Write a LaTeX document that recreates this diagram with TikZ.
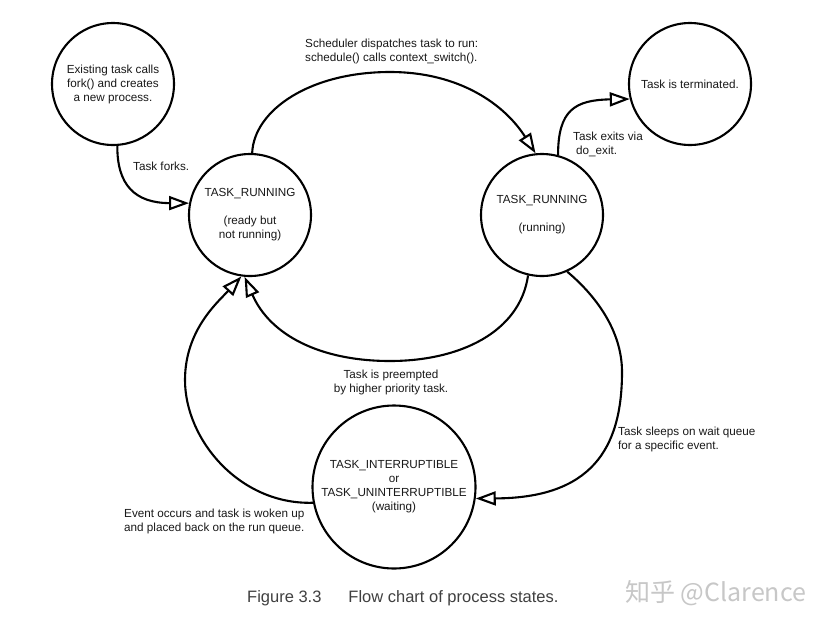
\documentclass[tikz,border=0pt]{standalone}
\usepackage{fontspec}
\setmainfont{Liberation Sans}
\newfontfamily\cjkwm{Noto Sans CJK SC}
\usetikzlibrary{arrows.meta}
\begin{document}
\begin{tikzpicture}[x=1pt,y=-1pt,
  state/.style={circle,draw,line width=2.1pt,minimum size=122pt,inner sep=0pt,align=center,
    font=\fontsize{11.7}{14}\selectfont,text=black!90},
  lbl/.style={inner sep=0pt,font=\fontsize{11.7}{14}\selectfont,text=black!90},
  flow/.style={line width=2.1pt,-{Triangle[length=20pt,width=14pt,fill=white]}},
]
\useasboundingbox (0,0) rectangle (826,627);
\fill[white] (0,0) rectangle (826,627);

\node[state] (A) at (113,84) {Existing task calls\\fork() and creates\\a new process.};
\node[state] (B) at (250,215) {TASK\_RUNNING\\[14pt](ready but\\not running)};
\node[state] (C) at (542,215) {TASK\_RUNNING\\[14pt](running)};
\node[state] (D) at (690,84) {Task is terminated.};
\node[state,minimum size=163pt] (E) at (394,487) {TASK\_INTERRUPTIBLE\\or\\TASK\_UNINTERRUPTIBLE\\(waiting)};

\draw[flow] (A.-86) .. controls (117,185) and (135,203) .. (B.169);
\draw[flow] (B.88) .. controls (254,110) and (310,72) .. (390,72) .. controls (460,72) and (505,105) .. (C.96);
\draw[flow] (C.75) .. controls (558,110) and (575,100) .. (D.-166);
\draw[flow] (C.-103) .. controls (520,332) and (460,361) .. (390,361) .. controls (320,361) and (270,335) .. (B.-95);
\draw[flow] (C.-66) .. controls (595,295) and (622,330) .. (622,372) .. controls (622,450) and (590,498) .. (E.-8);
\draw[flow] (E.191) .. controls (240,505) and (185,440) .. (185,380) .. controls (185,330) and (218,302) .. (B.-98);

\node[lbl,anchor=west] (l1) at (133,166) {Task forks.};
\node[lbl,anchor=west,align=left] (l2) at (305,51) {Scheduler dispatches task to run:\\schedule() calls context\_switch().};
\node[lbl,anchor=west,align=left] (l3) at (573,144.5) {Task exits via\\\hspace{3pt}do\_exit.};
\node[lbl,align=center] (l4) at (391,382) {Task is preempted\\by higher priority task.};
\node[lbl,anchor=west,align=left] (l5) at (618,439) {Task sleeps on wait queue\\for a specific event.};
\node[lbl,anchor=west,align=left] (l6) at (124,521) {Event occurs and task is woken up\\and placed back on the run queue.};

\node[anchor=west,inner sep=0pt,font=\fontsize{16.5}{18}\selectfont,text=black!75] (cap) at (247,598) {Figure 3.3\hspace{27pt}Flow chart of process states.};
\node[anchor=west,inner sep=0pt,font=\cjkwm\fontsize{25}{27}\selectfont,text=black!22] (wm) at (625,593) {知乎 @Clarence};
\end{tikzpicture}
\end{document}
